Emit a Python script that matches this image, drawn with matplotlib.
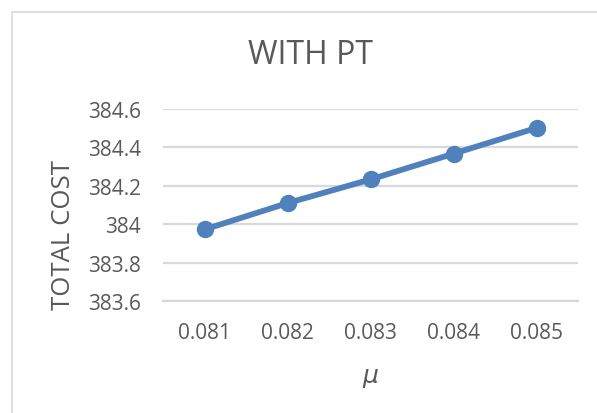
import matplotlib
matplotlib.use("Agg")
import matplotlib.pyplot as plt
from matplotlib.patches import Rectangle

mu_labels = ["0.081", "0.082", "0.083", "0.084", "0.085"]
total_cost = [383.974, 384.111, 384.234, 384.368, 384.502]
y_ticks = [383.6, 383.8, 384.0, 384.2, 384.4, 384.6]
y_tick_labels = ["383.6", "383.8", "384", "384.2", "384.4", "384.6"]

plt.rcParams["font.family"] = ["Open Sans", "DejaVu Sans"]
text_color = "#595959"
grid_color = "#d9d9d9"
line_color = "#4f81bd"

W, H = 597, 414
fig = plt.figure(figsize=(W / 100, H / 100), dpi=100)
fig.patch.set_facecolor("white")

# chart frame
fig.patches.append(Rectangle((11.5 / W, -0.1), 1.2, 1.1 - 13 / H,
                             transform=fig.transFigure, fill=False,
                             edgecolor=grid_color, linewidth=1.2))

ax = fig.add_axes([163.3 / W, 1 - 302.3 / H, (578.3 - 163.3) / W, (302.3 - 110) / H])
x = list(range(len(mu_labels)))
ax.plot(x, total_cost, color=line_color, linewidth=4.2, marker="o",
        markersize=11.5, solid_capstyle="round", zorder=3)

ax.set_xlim(-0.5, len(mu_labels) - 0.5)
ax.set_ylim(383.6, 384.6)
ax.set_yticks(y_ticks)
ax.set_yticklabels(y_tick_labels)
ax.set_xticks(x)
ax.set_xticklabels(mu_labels)
ax.grid(axis="y", color=grid_color, linewidth=1.6)
ax.set_axisbelow(True)
for s in ["top", "right", "left"]:
    ax.spines[s].set_visible(False)
ax.spines["bottom"].set_color(grid_color)
ax.spines["bottom"].set_linewidth(1.6)
ax.tick_params(axis="both", length=0, colors=text_color, labelsize=15)
ax.tick_params(axis="y", pad=16)
ax.tick_params(axis="x", pad=15)

fig.text(310 / W, 1 - 55 / H, "WITH PT", ha="center", va="center",
         fontsize=23, color=text_color)
fig.text(63 / W, 1 - 235 / H, "TOTAL COST", ha="center", va="center",
         rotation=90, fontsize=18.5, color=text_color)
fig.text(371 / W, 1 - 378 / H, r"$\mu$", ha="center", va="center",
         fontsize=18, color=text_color)

fig.savefig("out.png", dpi=100)
